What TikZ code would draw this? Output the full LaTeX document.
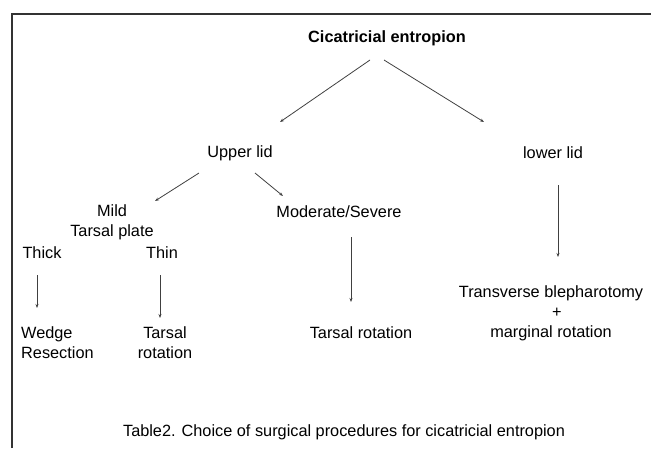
\documentclass[tikz,border=0pt]{standalone}
\usepackage{fontspec}
\setmainfont{Liberation Sans}
\usetikzlibrary{arrows.meta}
\begin{document}
\begin{tikzpicture}[x=1pt,y=-1pt,
  lbl/.style={inner sep=0pt,font=\fontsize{16.3}{20}\selectfont,align=center},
  conn/.style={draw=black!75,line width=0.8pt,-{Stealth[length=4pt,width=3pt]}}]
\useasboundingbox (0,0) rectangle (651,448);
\draw[line width=2pt,black!80] (12,448) -- (12,14) -- (651,14);
\node[lbl,font=\bfseries\fontsize{16.3}{20}\selectfont] (top) at (387,38) {Cicatricial entropion};
\node[lbl] (upper) at (240,153) {Upper lid};
\node[lbl] (lower) at (553,153) {lower lid};
\node[lbl] (mild) at (112,222) {Mild\\Tarsal plate};
\node[lbl] (mod) at (339,212) {Moderate/Severe};
\node[lbl] (thick) at (42,253) {Thick};
\node[lbl] (thin) at (162,253) {Thin};
\node[lbl,align=left,anchor=west] (wedge) at (21,343) {Wedge\\Resection};
\node[lbl] (tr1) at (165,343) {Tarsal\\rotation};
\node[lbl] (tr2) at (361,333) {Tarsal rotation};
\node[lbl] (trans) at (551,313) {Transverse blepharotomy\\\hspace*{12pt}+\\marginal rotation};
\node[lbl] (cap) at (344,432) {Table2. Choice of surgical procedures for cicatricial entropion};
\coordinate (a1s) at (370,60); \coordinate (a1e) at (280,122);
\coordinate (a2s) at (384,60); \coordinate (a2e) at (484,122);
\coordinate (b1s) at (199,173); \coordinate (b1e) at (155,201);
\coordinate (b2s) at (255,173); \coordinate (b2e) at (283,196);
\coordinate (c1s) at (37,275); \coordinate (c1e) at (37,308);
\coordinate (c2s) at (160,275); \coordinate (c2e) at (160,318);
\coordinate (c3s) at (351,237); \coordinate (c3e) at (351,302);
\coordinate (c4s) at (558,185); \coordinate (c4e) at (558,257);
\foreach \s/\e in {a1s/a1e,a2s/a2e,b1s/b1e,b2s/b2e,c1s/c1e,c2s/c2e,c3s/c3e,c4s/c4e}
  \draw[conn] (\s) -- (\e);
\end{tikzpicture}
\end{document}
